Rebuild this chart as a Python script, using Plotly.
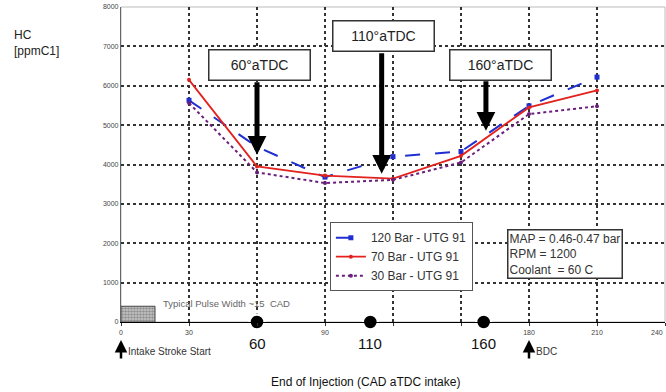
import plotly.graph_objects as go

# End of injection timing (CAD aTDC intake)
eoi = [30, 60, 90, 120, 150, 180, 210]

# HC emissions (ppmC1) per injection pressure
hc_120bar = [5630, 4450, 3680, 4200, 4330, 5490, 6220]
hc_70bar = [6150, 3950, 3720, 3640, 4220, 5450, 5880]
hc_30bar = [5560, 3800, 3530, 3610, 4050, 5280, 5480]

series_names = ["120 Bar - UTG 91", "70 Bar - UTG 91", "30 Bar - UTG 91"]

# Highlighted injection timings marked on the x axis
marked_timings = [60, 110, 160]
marked_labels = ["60", "110", "160"]

# Callout boxes: label, arrow x, arrow tip y, arrow tail y, box centre x, box centre y
callouts = [
    ("60°aTDC", 60, 4245, 6126, 60.9, 6520),
    ("110°aTDC", 115, 3762, 6863, 116, 7257),
    ("160°aTDC", 161, 4855, 6151, 167.6, 6533),
]

# Typical injector pulse width marker
pulse_width = 15
pulse_height = 400

x_ticks = [0, 30, 60, 90, 120, 150, 180, 210, 240]
x_ticktext = ["0", "30", "", "90", "", "", "180", "210", ""]
x_last_tick = 240
y_ticks = [0, 1000, 2000, 3000, 4000, 5000, 6000, 7000, 8000]

FONT = "Liberation Sans, Arial"

fig = go.Figure()

# Pulse width hatched block
fig.add_trace(go.Scatter(
    x=[0, pulse_width, pulse_width, 0, 0],
    y=[0, 0, pulse_height, pulse_height, 0],
    fill="toself", mode="lines",
    line=dict(color="#444444", width=1),
    fillpattern=dict(shape=".", size=3, solidity=0.6, fgcolor="#555555", bgcolor="#cccccc"),
    showlegend=False, hoverinfo="skip",
))

fig.add_trace(go.Scatter(
    x=eoi, y=hc_120bar, name=series_names[0], mode="lines+markers",
    line=dict(color="#1f2fd0", width=2, dash="longdash"),
    marker=dict(symbol="square", size=5, color="#1f2fd0"),
))
fig.add_trace(go.Scatter(
    x=eoi, y=hc_70bar, name=series_names[1], mode="lines+markers",
    line=dict(color="#e3211d", width=1.8),
    marker=dict(symbol="circle", size=4, color="#e3211d"),
))
fig.add_trace(go.Scatter(
    x=eoi, y=hc_30bar, name=series_names[2], mode="lines+markers",
    line=dict(color="#6b1f7c", width=2, dash="dot"),
    marker=dict(symbol="circle", size=4, color="#6b1f7c"),
))

# Timing dots on the axis
fig.add_trace(go.Scatter(
    x=marked_timings, y=[0] * len(marked_timings), mode="markers",
    marker=dict(size=15, color="black", line=dict(color="white", width=2.5)),
    cliponaxis=False, showlegend=False, hoverinfo="skip",
))

annotations = []
for label, ax_x, tip_y, tail_y, bx, by in callouts:
    annotations.append(dict(
        x=ax_x, y=tip_y, ax=ax_x, ay=tail_y, xref="x", yref="y", axref="x", ayref="y",
        text="", showarrow=True, arrowhead=2, arrowsize=0.75, arrowwidth=5,
        arrowcolor="black", standoff=0,
    ))
    annotations.append(dict(
        x=bx, y=by, xref="x", yref="y", text=label, showarrow=False,
        font=dict(family=FONT, size=14, color="#222"),
        bgcolor="white", bordercolor="#333333", borderwidth=1.5, borderpad=2,
        width=96, height=25,
    ))

for t, lbl in zip(marked_timings, marked_labels):
    annotations.append(dict(
        x=t, y=-0.102, xref="x", yref="paper", text=lbl, showarrow=False,
        font=dict(family=FONT, size=15, color="#111"),
    ))

# Intake stroke start and BDC pointers
for x_pos, txt in [(0, "Intake Stroke Start"), (180, "BDC")]:
    annotations.append(dict(
        x=x_pos, y=-0.057, xref="x", yref="paper", ax=0, ay=20, text="",
        showarrow=True, arrowhead=2, arrowsize=1, arrowwidth=2.5, arrowcolor="black", standoff=0,
    ))
    annotations.append(dict(
        x=x_pos, y=-0.117, xref="x", yref="paper", xshift=5, text=txt, showarrow=False,
        xanchor="left", font=dict(family=FONT, size=10, color="#333"),
    ))

annotations += [
    # last x tick label, kept inside the page edge
    dict(x=x_last_tick, y=-0.016, xref="x", yref="paper", text=str(x_last_tick),
         showarrow=False, xanchor="right", yanchor="top",
         font=dict(family=FONT, size=7, color="#444")),
    dict(x=17.6, y=458, xref="x", yref="y", text="Typical Pulse Width ~15  CAD",
         showarrow=False, xanchor="left",
         font=dict(family=FONT, size=9.5, color="#666")),
    dict(x=0.7096, y=0.295, xref="paper", yref="paper", xanchor="left", yanchor="top",
         text="MAP = 0.46-0.47 bar<br>RPM = 1200<br>Coolant  = 60 C", align="left",
         showarrow=False, bgcolor="white", bordercolor="#333333", borderwidth=1.5, borderpad=1,
         font=dict(family=FONT, size=12, color="#333")),
    dict(x=-0.2004, y=0.94, xref="paper", yref="paper", xanchor="left",
         text="HC<br>[ppmC1]", align="left", showarrow=False,
         font=dict(family=FONT, size=12, color="#222")),
    dict(x=0.45, y=-0.22, xref="paper", yref="paper",
         text="End of Injection (CAD aTDC intake)", showarrow=False,
         font=dict(family=FONT, size=12, color="#111")),
]

fig.update_layout(
    width=666, height=392,
    margin=dict(l=121, r=1, t=7, b=70),
    paper_bgcolor="white", plot_bgcolor="white",
    font=dict(family=FONT),
    annotations=annotations,
    showlegend=True,
    legend=dict(
        x=0.384, y=0.317, xanchor="left", yanchor="top",
        bgcolor="white", bordercolor="#555555", borderwidth=1,
        font=dict(size=12, color="#333"), tracegroupgap=0, itemwidth=30,
    ),
    shapes=[dict(type="rect", xref="paper", yref="paper", x0=0, y0=0, x1=1, y1=1,
                 line=dict(color="#bbbbbb", width=1), layer="below")],
)

fig.update_xaxes(
    range=[0, 240], tickvals=x_ticks, ticktext=x_ticktext,
    showgrid=True, gridcolor="#333333", griddash="dot", gridwidth=1.5,
    showline=True, linecolor="black", linewidth=1.2,
    ticks="outside", ticklen=3, tickcolor="#333",
    tickfont=dict(size=7, color="#444"), zeroline=False, automargin=False,
)
fig.update_yaxes(
    range=[0, 8000], tickvals=y_ticks,
    showgrid=True, gridcolor="#333333", griddash="dot", gridwidth=1.5,
    showline=True, linecolor="#666666", linewidth=1.2,
    tickfont=dict(size=7, color="#444"), zeroline=False, automargin=False,
)

fig.write_html("out.html")
